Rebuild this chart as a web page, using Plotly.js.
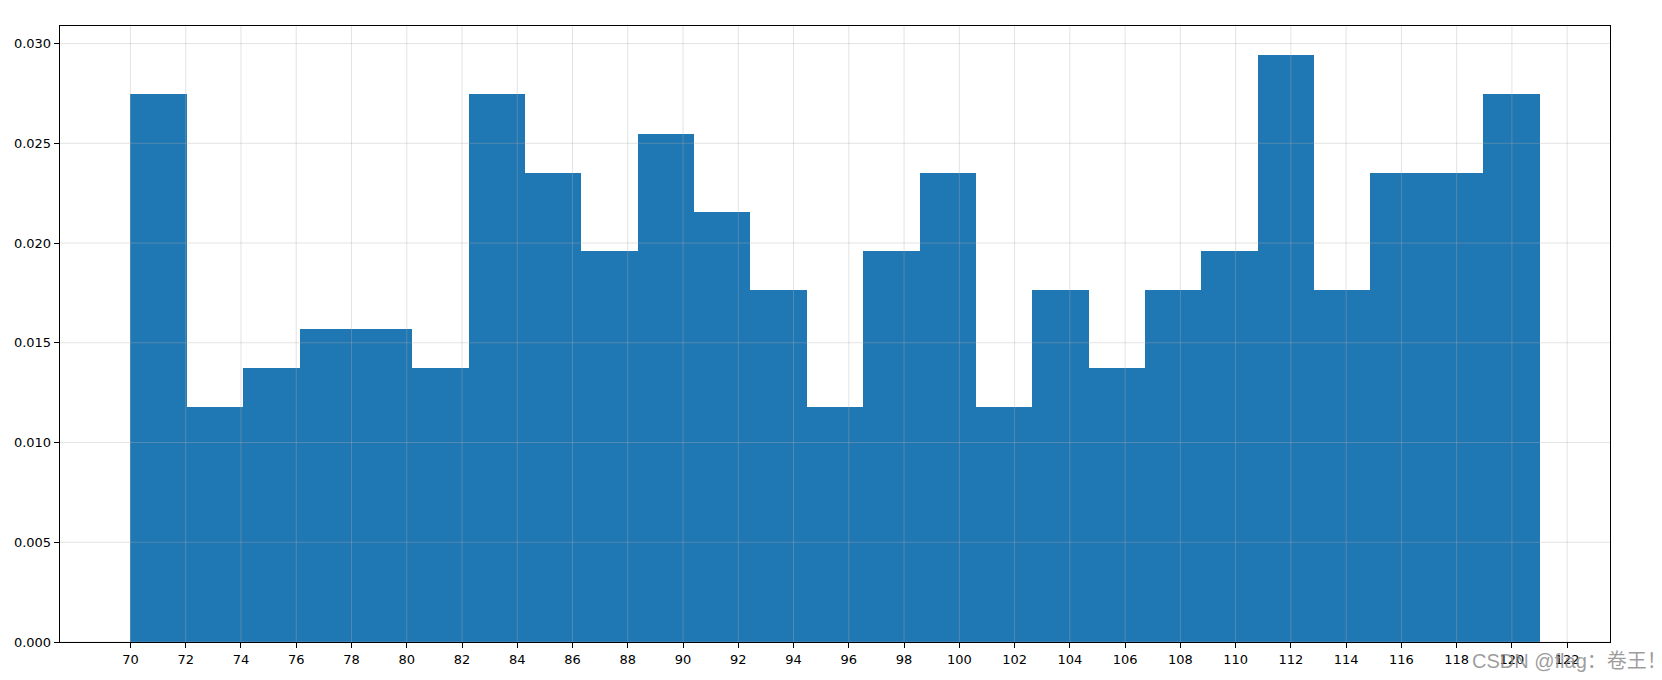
<!DOCTYPE html>
<html>
<head>
<meta charset="utf-8">
<script src="https://cdn.plot.ly/plotly-3.0.1.min.js"></script>
<style>html,body{margin:0;padding:0;background:#fff;}#chart{width:1662px;height:680px;}</style>
</head>
<body>
<div id="chart"></div>
<script>
// Histogram (density) values: 25 bins from 70 to 121
const binStart = 70;
const binEnd = 121;
const density = [
  0.02745, 0.01176, 0.01373, 0.01569, 0.01569,
  0.01373, 0.02745, 0.02353, 0.01961, 0.02549,
  0.02157, 0.01765, 0.01176, 0.01961, 0.02353,
  0.01176, 0.01765, 0.01373, 0.01765, 0.01961,
  0.02941, 0.01765, 0.02353, 0.02353, 0.02745
];
const xTicks = [70,72,74,76,78,80,82,84,86,88,90,92,94,96,98,100,102,104,106,108,110,112,114,116,118,120,122];
const yTicks = [0, 0.005, 0.010, 0.015, 0.020, 0.025, 0.030];
const yTickLabels = ["0.000","0.005","0.010","0.015","0.020","0.025","0.030"];
const watermark = "CSDN @flag：卷王！";

const nBins = density.length;
const bw = (binEnd - binStart) / nBins;
const lefts = density.map((_, i) => binStart + i * bw);

const trace = {
  type: 'bar',
  x: lefts,
  y: density,
  width: lefts.map(() => bw),
  offset: 0,
  marker: {color: '#1f77b4', line: {width: 0}},
  hoverinfo: 'x+y'
};

const xPad = (binEnd - binStart) * 0.05;
const yMax = Math.max(...density) * 1.05;
const gridColor = 'rgba(176,176,176,0.35)';
const shapes = [];
xTicks.forEach(v => shapes.push({type:'line', xref:'x', yref:'paper', x0:v, x1:v, y0:0, y1:1, line:{color:gridColor, width:1}, layer:'above'}));
yTicks.forEach(v => shapes.push({type:'line', xref:'paper', yref:'y', x0:0, x1:1, y0:v, y1:v, line:{color:gridColor, width:1}, layer:'above'}));

const layout = {
  width: 1662, height: 680,
  margin: {l: 60, r: 52, t: 26, b: 38},
  paper_bgcolor: '#fff', plot_bgcolor: '#fff',
  bargap: 0,
  showlegend: false,
  font: {family: 'DejaVu Sans', size: 13, color: '#000'},
  xaxis: {
    range: [binStart - xPad, binEnd + xPad],
    tickmode: 'array', tickvals: xTicks, ticktext: xTicks.map(String),
    showgrid: false, zeroline: false,
    showline: true, linecolor: '#000', linewidth: 1.3, mirror: true,
    ticks: 'outside', ticklen: 5, tickwidth: 1, tickcolor: '#000',
    tickfont: {family: 'DejaVu Sans', size: 13, color: '#000'}
  },
  yaxis: {
    range: [0, yMax],
    tickmode: 'array', tickvals: yTicks, ticktext: yTickLabels,
    showgrid: false, zeroline: false,
    showline: true, linecolor: '#000', linewidth: 1.3, mirror: true,
    ticks: 'outside', ticklen: 5, tickwidth: 1, tickcolor: '#000',
    tickfont: {family: 'DejaVu Sans', size: 13, color: '#000'}
  },
  shapes: shapes,
  annotations: [{
    text: watermark, xref: 'paper', yref: 'paper', x: 1, y: 0,
    xanchor: 'left', yanchor: 'top', xshift: -140, yshift: -6,
    showarrow: false,
    font: {family: 'Liberation Sans, Noto Sans CJK SC', size: 20, color: 'rgba(140,140,140,0.85)'}
  }]
};

Plotly.newPlot('chart', [trace], layout, {displayModeBar: false, staticPlot: true});
</script>
</body>
</html>
